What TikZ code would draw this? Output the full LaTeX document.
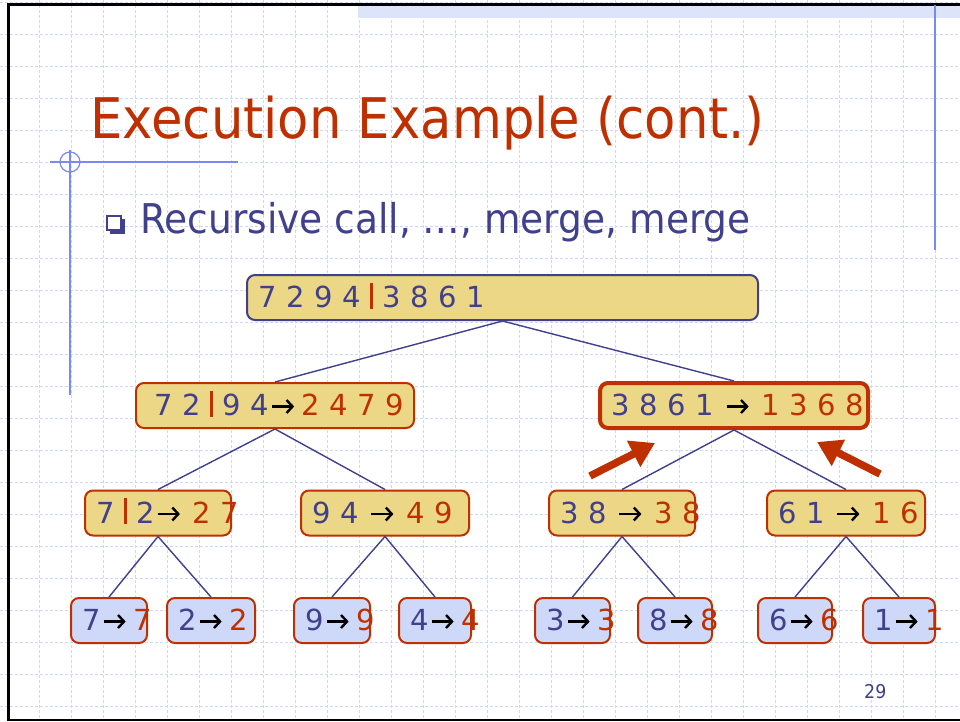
\documentclass[tikz,border=0pt]{standalone}
\usepackage{fontspec}
\usetikzlibrary{arrows.meta}
\setmainfont{DejaVu Sans}
\newfontfamily\slidefont{DejaVu Sans}[FakeStretch=0.915]
\definecolor{slidered}{RGB}{191,48,0}
\definecolor{slideblue}{RGB}{64,64,140}
\definecolor{gridblue}{RGB}{205,215,248}
\definecolor{rulerblue}{RGB}{120,140,240}
\definecolor{stripeblue}{RGB}{220,228,250}
\definecolor{cellyellow}{RGB}{235,215,133}
\definecolor{leafblue}{RGB}{206,217,250}
\newcommand{\sbar}{\textcolor{slidered}{\rule[-1pt]{2.5pt}{26pt}}}
% merge arrow, drawn so that it keeps the heavy open head
\newcommand{\ar}{\hspace{2pt}\tikz[baseline=-9pt,x=1pt,y=1pt]
	\draw[black,line width=2.4pt,-{Straight Barb[length=6pt,width=13pt,line width=2.4pt]}] (0,0) -- (22,0);\hspace{2pt}}
\newcommand{\done}[1]{\textcolor{slidered}{#1}}
\tikzset{
	cell/.style={draw=slidered,fill=cellyellow,rounded corners=8pt,line width=2pt,
		minimum height=45pt,inner xsep=11pt,inner ysep=0pt,align=left,
		text height=20pt,text depth=0pt,text=slideblue,font=\fontsize{29}{29}\selectfont},
	leaf/.style={cell,fill=leafblue},
	link/.style={slideblue,line width=1.4pt},
	pointer/.style={slidered,line width=7.5pt,-{Triangle[length=24pt,width=28pt]}},
	gridline/.style={gridblue,line width=0.8pt,dash pattern=on 3pt off 2pt}
}
\begin{document}
\begin{tikzpicture}[x=1pt,y=-1pt]
	\useasboundingbox (0,0) rectangle (960,721);
	\fill[white] (0,0) rectangle (960,721);
	%PAGE
	\foreach \x in {39,71,...,967} \draw[gridline] (\x,0) -- (\x,721);
	\foreach \y in {2,34,...,706} \draw[gridline] (0,\y) -- (960,\y);
	\fill[stripeblue] (358,6) rectangle (960,18);
	\draw[line width=3pt] (8,721) -- (8,4.5) -- (960,4.5);
	\draw[line width=2pt] (8,720) -- (960,720);
	\draw[rulerblue,line width=2pt] (935,5) -- (935,250);
	\draw[rulerblue,line width=1.3pt] (50,162) -- (238,162);
	\draw[rulerblue,line width=1.2pt] (70,162) circle[radius=10pt];
	\draw[rulerblue,line width=2.5pt] (70,150) -- (70,395);
	\node[anchor=base west,inner sep=0,text=slidered,font=\slidefont\fontsize{56}{56}\selectfont] (title) at (90,138) {Execution Example (cont.)};
	\fill[slideblue] (110,219) rectangle (125,234);
	\draw[slideblue,fill=white,line width=1.2pt] (107,216) rectangle (121,230);
	\node[anchor=base west,inner sep=0,text=slideblue,font=\slidefont\fontsize{41}{41}\selectfont] (point) at (140,233) {Recursive call, …, merge, merge};
	\node[anchor=base west,inner sep=0,text=slideblue,font=\slidefont\fontsize{19}{19}\selectfont] (pageno) at (864,698) {29};
	%TREE
	\node[cell,draw=slideblue,text width=489pt] (root) at (502.5,297.5) {\mbox{7 2 9 4 \sbar{} 3 8 6 1}};
	\node[cell,text width=256pt] (mL) at (275,405.5) {\mbox{\hspace*{7pt}7 2 \sbar{} 9 4\ar\hspace{4pt}\done{2 4 7 9}}};
	\node[cell,line width=4pt,text width=246pt] (mR) at (734,405.5) {\mbox{3 8 6 1 \ar{} \done{1 3 6 8}}};
	\node[cell,text width=124pt] (q1) at (158,513) {\mbox{7 \sbar{} 2\ar{} \done{2 7}}};
	\node[cell,text width=146pt] (q2) at (385,513) {\mbox{9 4 \ar{} \done{4 9}}};
	\node[cell,text width=124pt] (q3) at (622,513) {\mbox{3 8 \ar{} \done{3 8}}};
	\node[cell,text width=136pt] (q4) at (846,513) {\mbox{6 1 \ar{} \done{1 6}}};
	\node[leaf,text width=54pt] (s1) at (109,620.5) {\mbox{7\ar\,\done{7}}};
	\node[leaf,text width=66pt] (s2) at (211,620.5) {\mbox{2\ar\,\done{2}}};
	\node[leaf,text width=54pt] (s3) at (332,620.5) {\mbox{9\ar\,\done{9}}};
	\node[leaf,text width=50pt] (s4) at (435,620.5) {\mbox{4\ar\,\done{4}}};
	\node[leaf,text width=53pt] (s5) at (572.5,620.5) {\mbox{3\ar\,\done{3}}};
	\node[leaf,text width=52pt] (s6) at (675,620.5) {\mbox{8\ar\,\done{8}}};
	\node[leaf,text width=52pt] (s7) at (795,620.5) {\mbox{6\ar\,\done{6}}};
	\node[leaf,text width=50pt] (s8) at (899,620.5) {\mbox{1\ar\,\done{1}}};
	\draw[link] (root.south) -- (mL.north);
	\draw[link] (root.south) -- (mR.north);
	\draw[link] (mL.south) -- (q1.north);
	\draw[link] (mL.south) -- (q2.north);
	\draw[link] (mR.south) -- (q3.north);
	\draw[link] (mR.south) -- (q4.north);
	\draw[link] (q1.south) -- (s1.north);
	\draw[link] (q1.south) -- (s2.north);
	\draw[link] (q2.south) -- (s3.north);
	\draw[link] (q2.south) -- (s4.north);
	\draw[link] (q3.south) -- (s5.north);
	\draw[link] (q3.south) -- (s6.north);
	\draw[link] (q4.south) -- (s7.north);
	\draw[link] (q4.south) -- (s8.north);
	%MERGE POINTERS
	\coordinate (tailL) at (590,476);
	\coordinate (headL) at (655,443);
	\coordinate (tailR) at (880,474);
	\coordinate (headR) at (817,442);
	\draw[pointer] (tailL) -- (headL);
	\draw[pointer] (tailR) -- (headR);
\end{tikzpicture}
\end{document}
